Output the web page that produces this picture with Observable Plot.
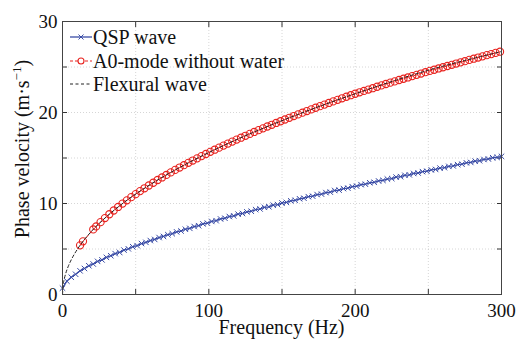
<!DOCTYPE html>
<html><head><meta charset="utf-8">
<script src="https://cdn.jsdelivr.net/npm/d3@7"></script>
<script src="https://cdn.jsdelivr.net/npm/@observablehq/plot@0.6"></script>
<style>body{margin:0;background:#fff} #chart svg, #chart svg text{font-family:"Liberation Serif","Times New Roman",serif !important}</style>
</head><body><div id="chart"></div>
<script>
// QSP wave (blue, x markers)
const qspFreq = [0,3,6,9,12,15,18,21,24,27,30,33,36,39,42,45,48,51,54,57,60,63,66,69,72,75,78,81,84,87,90,93,96,99,102,105,108,111,114,117,120,123,126,129,132,135,138,141,144,147,150,153,156,159,162,165,168,171,174,177,180,183,186,189,192,195,198,201,204,207,210,213,216,219,222,225,228,231,234,237,240,243,246,249,252,255,258,261,264,267,270,273,276,279,282,285,288,291,294,297,300];
const qspVel = [0.70,1.47,1.90,2.22,2.60,2.86,3.16,3.35,3.64,3.80,4.08,4.26,4.49,4.63,4.88,5.02,5.25,5.37,5.60,5.73,5.93,6.05,6.26,6.38,6.57,6.68,6.88,6.98,7.17,7.27,7.47,7.56,7.76,7.84,8.03,8.11,8.30,8.38,8.57,8.64,8.83,8.90,9.08,9.15,9.33,9.40,9.58,9.64,9.82,9.88,10.05,10.12,10.29,10.35,10.52,10.58,10.75,10.80,10.98,11.03,11.20,11.25,11.43,11.47,11.64,11.69,11.85,11.91,12.07,12.12,12.28,12.33,12.48,12.54,12.69,12.74,12.90,12.95,13.10,13.15,13.30,13.35,13.50,13.55,13.69,13.74,13.89,13.94,14.08,14.13,14.27,14.32,14.47,14.51,14.65,14.70,14.84,14.89,15.03,15.07,15.18];
// A0-mode without water (red, open circles)
const a0Freq = [12,14,21,23,26,29,32,35,38,41,44,47,50,53,56,59,62,65,68,71,74,77,80,83,86,89,92,95,98,101,104,107,110,113,116,119,122,125,128,131,134,137,140,143,146,149,152,155,158,161,164,167,170,173,176,179,182,185,188,191,194,197,200,203,206,209,212,215,218,221,224,227,230,233,236,239,242,245,248,251,254,257,260,263,266,269,272,275,278,281,284,287,290,293,296,299];
const a0Vel = [5.40,5.84,7.15,7.48,7.95,8.40,8.82,9.23,9.62,9.99,10.35,10.70,11.03,11.36,11.67,11.98,12.28,12.58,12.86,13.14,13.42,13.69,13.95,14.21,14.47,14.72,14.96,15.21,15.44,15.68,15.91,16.14,16.36,16.58,16.80,17.02,17.23,17.44,17.65,17.86,18.06,18.26,18.46,18.65,18.85,19.04,19.23,19.42,19.61,19.79,19.98,20.16,20.34,20.52,20.70,20.87,21.05,21.22,21.39,21.56,21.73,21.90,22.06,22.22,22.37,22.52,22.67,22.83,22.98,23.13,23.28,23.42,23.57,23.71,23.85,24.00,24.14,24.28,24.43,24.57,24.70,24.84,24.97,25.11,25.24,25.38,25.51,25.64,25.78,25.91,26.04,26.17,26.30,26.42,26.55,26.68];
// Flexural wave (black dashed)
const flexFreq = [0,0.5,1,2,4,6,8,10,15,20,30,40,60,80,100,130,160,200,250,300];
const flexVel = [0,1.1,1.56,2.2,3.12,3.82,4.41,4.93,6.04,6.98,8.54,9.87,12.08,13.95,15.6,17.79,19.73,22.06,24.64,26.7];

const xLabels = [0,100,200,300];
const yLabels = [0,10,20,30];
const xMinor = [0,50,100,150,200,250,300];
const yMinor = [0,5,10,15,20,25,30];
const legendNames = ["QSP wave","A0-mode without water","Flexural wave"];

const FONT = '"Liberation Serif","Times New Roman",serif';
const blue = "#3a4ca6", red = "#e8231f";
const qsp = qspFreq.map((f,i)=>({f,v:qspVel[i]}));
const a0 = a0Freq.map((f,i)=>({f,v:a0Vel[i]}));
const flex = flexFreq.map((f,i)=>({f,v:flexVel[i]}));

const chart = Plot.plot({
  width:516, height:347,
  marginLeft:62, marginRight:15, marginTop:21, marginBottom:53,
  style:{fontSize:"19px", color:"#111", background:"#fff"},
  x:{domain:[0,300]},
  y:{domain:[0,30]},
  marks:[
    Plot.gridX(xMinor,{stroke:"#bbb", strokeOpacity:0.6, strokeDasharray:"1,2"}),
    Plot.gridY(yMinor,{stroke:"#bbb", strokeOpacity:0.6, strokeDasharray:"1,2"}),
    Plot.axisX({ticks:xLabels, tickSize:0, tickPadding:9, label:null, fontSize:19}),
    Plot.axisY({ticks:yLabels, tickSize:0, tickPadding:5, label:null, fontSize:19}),
    Plot.axisX(xMinor,{anchor:"bottom", tickSize:-5, tickFormat:()=>"", label:null, stroke:"#333"}),
    Plot.axisX(xMinor,{anchor:"top", tickSize:-5, tickFormat:()=>"", label:null, stroke:"#333"}),
    Plot.axisY(yMinor,{anchor:"left", tickSize:-5, tickFormat:()=>"", label:null, stroke:"#333"}),
    Plot.axisY(yMinor,{anchor:"right", tickSize:-5, tickFormat:()=>"", label:null, stroke:"#333"}),
    Plot.line(qsp,{x:"f", y:"v", stroke:blue, strokeWidth:1.3}),
    Plot.dot(qsp,{x:"f", y:"v", symbol:"times", r:2.6, stroke:blue, strokeWidth:1}),
    Plot.line(a0,{x:"f", y:"v", stroke:red, strokeWidth:1, strokeDasharray:"3,2"}),
    Plot.dot(a0,{x:"f", y:"v", symbol:"circle", r:3.6, stroke:red, strokeWidth:1.1, fill:"none"}),
    Plot.line(flex,{x:"f", y:"v", stroke:"#222", strokeWidth:1, strokeDasharray:"3,2.5", curve:"monotone-x"}),
    Plot.frame({stroke:"#444", strokeWidth:1})
  ]
});
document.getElementById("chart").appendChild(chart);

const svg = d3.select(chart);
svg.style("font-family", FONT);
// axis titles
svg.append("text").attr("x",281.5).attr("y",334).attr("text-anchor","middle").attr("font-family",FONT)
  .attr("font-size",20).attr("fill","#111").text("Frequency (Hz)");
const yl = svg.append("text").attr("transform","translate(29,149) rotate(-90)").attr("font-family",FONT)
  .attr("text-anchor","middle").attr("font-size",20).attr("fill","#111");
yl.append("tspan").text("Phase velocity (m·s");
yl.append("tspan").attr("dy",-8).attr("font-size",13).text("−1");
yl.append("tspan").attr("dy",8).text(")");

// legend
const lg = svg.append("g").attr("text-anchor","start");
const rows = [37,61,84];
lg.append("line").attr("x1",70).attr("x2",92).attr("y1",rows[0]).attr("y2",rows[0]).attr("stroke",blue).attr("stroke-width",1.3);
lg.append("path").attr("d",`M78.5,${rows[0]-2.5}l5,5M78.5,${rows[0]+2.5}l5,-5`).attr("stroke",blue);
lg.append("line").attr("x1",70).attr("x2",92).attr("y1",rows[1]).attr("y2",rows[1]).attr("stroke",red).attr("stroke-dasharray","3,2");
lg.append("circle").attr("cx",81).attr("cy",rows[1]).attr("r",3).attr("fill","#fff").attr("stroke",red).attr("stroke-width",1.1);
lg.append("line").attr("x1",70).attr("x2",92).attr("y1",rows[2]).attr("y2",rows[2]).attr("stroke","#222").attr("stroke-dasharray","3,2.5");
legendNames.forEach((n,i)=>{
  lg.append("text").attr("x",93).attr("y",rows[i]).attr("dy","0.33em").attr("text-anchor","start")
    .attr("font-family",FONT).attr("font-size",20).attr("fill","#111").text(n);
});
</script></body></html>
